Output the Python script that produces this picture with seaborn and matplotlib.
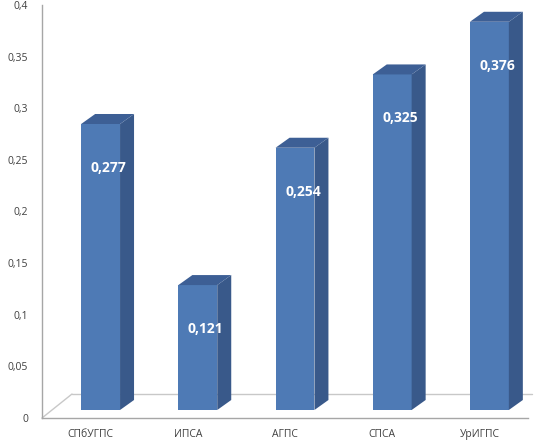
import numpy as np
import matplotlib
matplotlib.use("Agg")
import matplotlib.pyplot as plt
from matplotlib.patches import Polygon
import seaborn as sns

categories = ["СПбУГПС", "ИПСА", "АГПС", "СПСА", "УрИГПС"]
values = [0.277, 0.121, 0.254, 0.325, 0.376]
yticks = [0, 0.05, 0.1, 0.15, 0.2, 0.25, 0.3, 0.35, 0.4]

front = "#4e7ab5"
side = "#39598a"
top = "#3d5f95"
axis_col = "#a6a6a6"

sns.set_style("white")
plt.rcParams["font.family"] = ["Open Sans", "DejaVu Sans"]

fig = plt.figure(figsize=(5.35, 4.43), dpi=100)
ax = fig.add_axes([42 / 535, 25 / 443, (528 - 42) / 535, (418 - 5) / 443])
sns.barplot(x=categories, y=values, ax=ax, width=0.4, color=front,
            saturation=1, edgecolor="none")
ax.set_xlim(-0.5, 4.5)
ax.set_ylim(0, 0.4)

# pixel -> data conversions for the fake 3d depth
p0 = ax.transData.transform((0, 0))
px_x = ax.transData.transform((1, 0))[0] - p0[0]
px_y = ax.transData.transform((0, 1))[1] - p0[1]
def dx(px): return px / px_x
def dy(px): return px / px_y

# floor
fx, fy = dx(30), dy(24)
ax.plot([-0.5, -0.5 + fx], [0, fy], color="#c8c8c8", lw=1, clip_on=False, zorder=1)
ax.plot([-0.5 + fx, 4.5 + dx(4)], [fy, fy], color="#c8c8c8", lw=1, clip_on=False, zorder=1)

sx, sy = dx(10), dy(8)
bx, by = dx(14), dy(10)
for patch, v in zip(ax.patches, values):
    x = patch.get_x() + sx
    w = patch.get_width()
    patch.set_x(x)
    patch.set_y(sy)
    patch.set_zorder(3)
    h = sy + v
    ax.add_patch(Polygon([(x + w, sy), (x + w + bx, sy + by), (x + w + bx, h + by), (x + w, h)],
                         closed=True, facecolor=side, edgecolor="none", zorder=3))
    ax.add_patch(Polygon([(x, h), (x + bx, h + by), (x + w + bx, h + by), (x + w, h)],
                         closed=True, facecolor=top, edgecolor="none", zorder=3, clip_on=False))
    ax.text(x + w / 2 + dx(8), h - dy(44), f"{v:.3f}".replace(".", ","), color="white",
            fontsize=10, fontweight="bold", ha="center", va="center", zorder=4)

sns.despine(ax=ax, top=True, right=True)
for s in ["left", "bottom"]:
    ax.spines[s].set_color(axis_col)
    ax.spines[s].set_linewidth(1)

ax.set_yticks(yticks)
ax.set_yticklabels([("%g" % t).replace(".", ",") for t in yticks])
ax.set_xticks(np.arange(-0.5, 5, 1), minor=True)
ax.tick_params(axis="x", which="major", length=0, pad=8, labelsize=7.5, labelcolor="#404040")
ax.tick_params(axis="x", which="minor", length=4, color=axis_col, direction="out")
ax.tick_params(axis="y", length=4, color=axis_col, direction="out", labelsize=7.5,
               labelcolor="#404040", pad=6)
ax.set_xlabel("")
ax.set_ylabel("")

fig.savefig("out.png", dpi=100)
